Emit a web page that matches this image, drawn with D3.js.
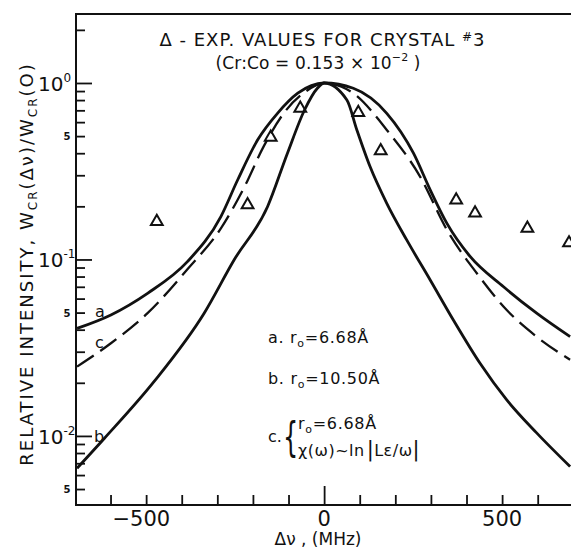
<!DOCTYPE html>
<html>
<head>
<meta charset="utf-8">
<script src="https://cdn.jsdelivr.net/npm/d3@7"></script>
<style>
  body { margin: 0; background: #fff; }
  text { font-family: "DejaVu Sans", sans-serif; fill: #111; }
</style>
</head>
<body>
<div id="chart"></div>
<script>
// curve a : r0 = 6.68 A (solid, widest)
const curveAx = [-694, -599, -496, -384, -290, -243, -187, -131, -74, 0, 82, 176, 251, 298, 345, 410, 504, 597, 691];
const curveAy = [0.0407, 0.0485, 0.0643, 0.0972, 0.175, 0.282, 0.475, 0.673, 0.875, 1, 0.933, 0.673, 0.400, 0.248, 0.160, 0.104, 0.070, 0.0496, 0.0365];

// curve b : r0 = 10.50 A (solid, narrow)
const curveBx = [-694, -617, -478, -337, -253, -159, -103, -55, -19, 0, 64, 92, 129, 176, 232, 298, 363, 438, 513, 597, 691];
const curveBy = [0.00656, 0.0097, 0.0203, 0.0496, 0.0993, 0.199, 0.400, 0.703, 0.933, 1, 0.801, 0.542, 0.336, 0.208, 0.129, 0.0765, 0.0454, 0.0258, 0.016, 0.0104, 0.0067];

// curve c : r0 = 6.68 A, X(w) ~ ln|Le/w| (dashed)
const curveCx = [-694, -599, -496, -384, -290, -225, -169, -112, -55, 0, 82, 176, 270, 345, 429, 513, 597, 691];
const curveCy = [0.0247, 0.0335, 0.0496, 0.088, 0.150, 0.255, 0.44, 0.68, 0.885, 1, 0.875, 0.542, 0.294, 0.147, 0.0835, 0.0517, 0.0365, 0.027];

// experimental values, crystal #3 (triangles)
const expX = [-470, -215, -150, -67, 96, 159, 371, 424, 571, 688];
const expY = [0.164, 0.204, 0.492, 0.719, 0.679, 0.413, 0.217, 0.183, 0.150, 0.124];

// ticks
const xMinorTicks = [-600, -500, -400, -300, -200, -100, 100, 200, 300, 400, 500, 600];
const xLabels = [-500, 0, 500];
const yMajorTicks = [0.01, 0.1, 1];
const yMinorTicks = [0.005, 0.006, 0.007, 0.008, 0.009,
  0.02, 0.03, 0.04, 0.05, 0.06, 0.07, 0.08, 0.09,
  0.2, 0.3, 0.4, 0.5, 0.6, 0.7, 0.8, 0.9, 2];
const yDecadeLabels = [{v: 1, exp: "0"}, {v: 0.1, exp: "-1"}, {v: 0.01, exp: "-2"}];
const yFiveLabels = [0.5, 0.05, 0.005];

//Set up the layout
const svgWidth = 571, svgHeight = 553;
const plotLeft = 76, plotTop = 14, plotBottom = 505;

const svg = d3.select("#chart").append("svg")
  .attr("width", svgWidth)
  .attr("height", svgHeight);

const xScale = d3.scaleLinear().domain([-697, 700]).range([plotLeft, 573.3]);
const yScale = d3.scaleLog().domain([0.00406, 2.46]).range([plotBottom, plotTop]);

svg.append("clipPath").attr("id", "plotclip")
  .append("rect").attr("x", plotLeft).attr("y", plotTop)
  .attr("width", svgWidth - plotLeft).attr("height", plotBottom - plotTop);

//Frame
svg.append("path")
  .attr("d", `M${svgWidth},${plotTop}H${plotLeft}V${plotBottom}H${svgWidth}`)
  .attr("fill", "none").attr("stroke", "#111").attr("stroke-width", 2);

//Axes (ticks point into the plot)
function styleAxis(g) {
  g.select(".domain").remove();
  g.selectAll(".tick line").attr("stroke", "#111").attr("stroke-width", 1.8);
}
svg.append("g").attr("transform", `translate(${plotLeft},0)`)
  .call(d3.axisRight(yScale).tickValues(yMinorTicks).tickSize(9).tickFormat(""))
  .call(styleAxis);
svg.append("g").attr("transform", `translate(${plotLeft},0)`)
  .call(d3.axisRight(yScale).tickValues(yMajorTicks).tickSize(16).tickFormat(""))
  .call(styleAxis);
svg.append("g").attr("transform", `translate(0,${plotBottom})`)
  .call(d3.axisTop(xScale).tickValues(xMinorTicks).tickSize(10).tickFormat(""))
  .call(styleAxis);
svg.append("g").attr("transform", `translate(0,${plotBottom})`)
  .call(d3.axisTop(xScale).tickValues([0]).tickSize(19).tickFormat(""))
  .call(styleAxis);

//x tick labels
svg.selectAll(".xlab")
  .data(xLabels)
  .enter().append("text")
  .attr("class", "xlab")
  .attr("x", d => d < 0 ? xScale(d) + 24 : xScale(d))
  .attr("y", 526)
  .attr("text-anchor", d => d < 0 ? "end" : "middle")
  .attr("font-size", 21)
  .text(d => d < 0 ? "\u2212" + Math.abs(d) : d);

//y decade labels
const ylab = svg.selectAll(".ylab")
  .data(yDecadeLabels)
  .enter().append("text")
  .attr("class", "ylab")
  .attr("x", 38)
  .attr("y", d => yScale(d.v) + 8)
  .attr("font-size", 20);
ylab.append("tspan").text("10");
ylab.append("tspan").attr("dy", -9).attr("font-size", 12).text(d => d.exp);

svg.selectAll(".y5")
  .data(yFiveLabels)
  .enter().append("text")
  .attr("class", "y5")
  .attr("x", 67)
  .attr("y", d => yScale(d) + 4)
  .attr("text-anchor", "middle")
  .attr("font-size", 10)
  .attr("font-weight", "bold")
  .text("5");

//Curves
const plot = svg.append("g").attr("clip-path", "url(#plotclip)");
const line = d3.line()
  .x(d => xScale(d[0]))
  .y(d => yScale(d[1]))
  .curve(d3.curveMonotoneX);

const curves = [
  {x: curveAx, y: curveAy, w: 2.8, dash: null},
  {x: curveBx, y: curveBy, w: 2.8, dash: null},
  {x: curveCx, y: curveCy, w: 2.3, dash: "20,8"}
];
curves.forEach(c => {
  plot.append("path")
    .datum(c.x.map((v, i) => [v, c.y[i]]))
    .attr("d", line)
    .attr("fill", "none")
    .attr("stroke", "#111")
    .attr("stroke-width", c.w)
    .attr("stroke-dasharray", c.dash);
});

//Experimental triangles
plot.selectAll(".exp")
  .data(expX.map((v, i) => [v, expY[i]]))
  .enter().append("path")
  .attr("class", "exp")
  .attr("transform", d => `translate(${xScale(d[0])},${yScale(d[1])})`)
  .attr("d", d3.symbol(d3.symbolTriangle, 60))
  .attr("fill", "none")
  .attr("stroke", "#111")
  .attr("stroke-width", 2);

//Curve labels at left edge
svg.append("text").attr("x", 95).attr("y", 317).attr("font-size", 16).text("a");
svg.append("text").attr("x", 95).attr("y", 348).attr("font-size", 16).text("c");
svg.append("text").attr("x", 94).attr("y", 442).attr("font-size", 16).text("b");

//Title
const t1 = svg.append("text").attr("x", 322).attr("y", 46)
  .attr("text-anchor", "middle").attr("font-size", 18)
  .attr("textLength", 325).attr("lengthAdjust", "spacing");
t1.append("tspan").text("\u0394 - EXP. VALUES FOR CRYSTAL ");
t1.append("tspan").attr("font-size", 12).attr("dy", -5).text("#");
t1.append("tspan").attr("dy", 5).text("3");

const t2 = svg.append("text").attr("x", 318).attr("y", 69)
  .attr("text-anchor", "middle").attr("font-size", 17)
  .attr("textLength", 205).attr("lengthAdjust", "spacing");
t2.append("tspan").text("(Cr:Co = 0.153 \u00d7 10");
t2.append("tspan").attr("font-size", 11).attr("dy", -8).text("\u22122");
t2.append("tspan").attr("dy", 8).text(" )");

//Legend
function rLabel(g, x, y, pre, val) {
  const t = g.append("text").attr("x", x).attr("y", y).attr("font-size", 16)
    .attr("letter-spacing", 0.7);
  t.append("tspan").text(pre + "r");
  t.append("tspan").attr("font-size", 11).attr("dy", 4).text("o");
  t.append("tspan").attr("dy", -4).text("=" + val + "\u00c5");
  return t;
}
rLabel(svg, 268, 343, "a.  ", "6.68");
rLabel(svg, 268, 384, "b.  ", "10.50");
svg.append("text").attr("x", 268).attr("y", 442).attr("font-size", 16).text("c.");
svg.append("text").attr("transform", "translate(283,451) scale(0.6,1)")
  .attr("font-size", 40).text("{");
rLabel(svg, 298, 429, "", "6.68");
const c2 = svg.append("text").attr("x", 298).attr("y", 456).attr("font-size", 16)
  .attr("letter-spacing", 0.5);
c2.append("tspan").text("\u03c7(\u03c9)~ln");
c2.append("tspan").attr("font-size", 21).attr("dx", 2).text("|");
c2.append("tspan").text("L\u03b5/\u03c9");
c2.append("tspan").attr("font-size", 21).text("|");

//Axis titles
svg.append("text")
  .attr("x", 318).attr("y", 545)
  .attr("text-anchor", "middle").attr("font-size", 17)
  .text("\u0394\u03bd , (MHz)");

const yt = svg.append("text")
  .attr("transform", "translate(33,264) rotate(-90)")
  .attr("text-anchor", "middle").attr("font-size", 18)
  .attr("letter-spacing", 2);
yt.append("tspan").text("RELATIVE INTENSITY, W");
yt.append("tspan").attr("font-size", 12).attr("dy", 4).text("CR");
yt.append("tspan").attr("dy", -4).text("(\u0394\u03bd)/W");
yt.append("tspan").attr("font-size", 12).attr("dy", 4).text("CR");
yt.append("tspan").attr("dy", -4).text("(O)");
</script>
</body>
</html>
